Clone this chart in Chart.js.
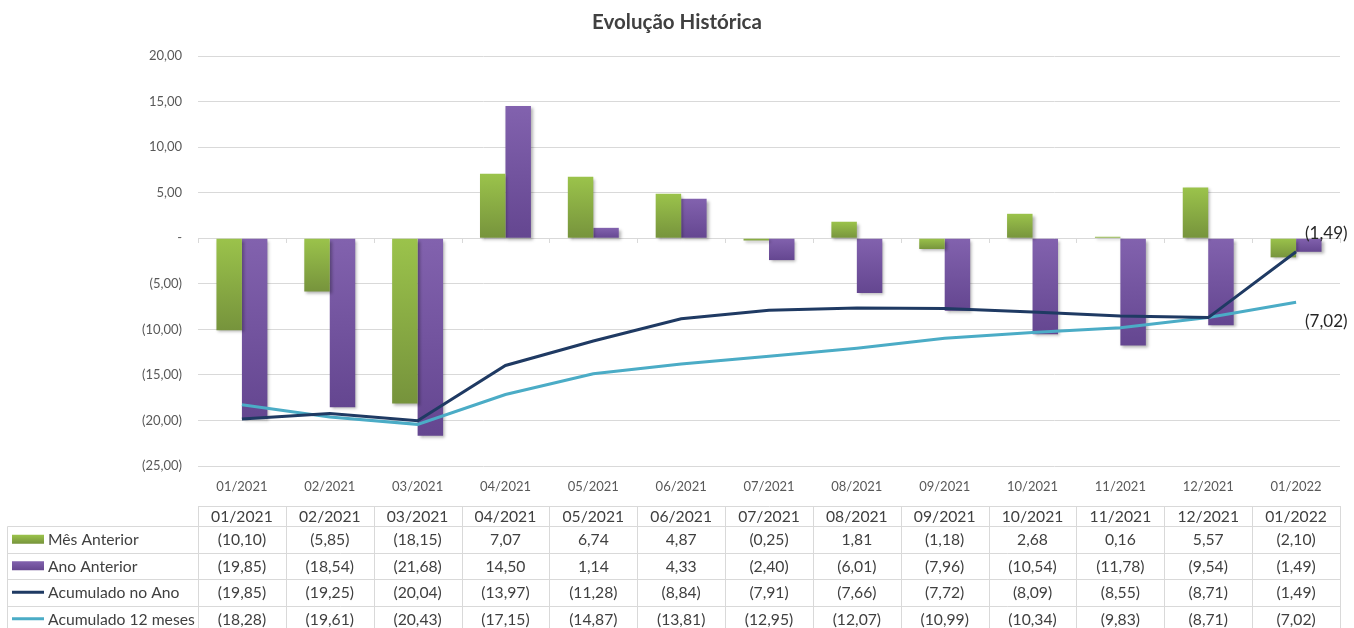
<!DOCTYPE html>
<html>
<head>
<meta charset="utf-8">
<title>Evolução Histórica</title>
<script src="https://cdn.jsdelivr.net/npm/chart.js@4.4.1/dist/chart.umd.min.js"></script>
<style>
  html, body { margin: 0; padding: 0; background: #ffffff; overflow: hidden; }
  canvas { display: block; }
</style>
</head>
<body>
<canvas id="evolucaoChart" width="1354" height="628"></canvas>
<script>
const categorias = ["01/2021", "02/2021", "03/2021", "04/2021", "05/2021", "06/2021", "07/2021",
  "08/2021", "09/2021", "10/2021", "11/2021", "12/2021", "01/2022"];
const mesAnterior = [-10.10, -5.85, -18.15, 7.07, 6.74, 4.87, -0.25, 1.81, -1.18, 2.68, 0.16, 5.57, -2.10];
const anoAnterior = [-19.85, -18.54, -21.68, 14.50, 1.14, 4.33, -2.40, -6.01, -7.96, -10.54, -11.78, -9.54, -1.49];
const acumuladoAno = [-19.85, -19.25, -20.04, -13.97, -11.28, -8.84, -7.91, -7.66, -7.72, -8.09, -8.55, -8.71, -1.49];
const acumulado12 = [-18.28, -19.61, -20.43, -17.15, -14.87, -13.81, -12.95, -12.07, -10.99, -10.34, -9.83, -8.71, -7.02];

const FONT = "Lato, 'Open Sans', sans-serif";
const TEXT_COLOR = "#404040";
const GRID_COLOR = "#d9d9d9";

// numero no formato contabil: (10,10) para negativos, "-" para zero
function fmt(v) {
  if (v === 0) return "-";
  const s = Math.abs(v).toFixed(2).replace(".", ",");
  return v < 0 ? "(" + s + ")" : s;
}

function barGradient(c, top, bottom) {
  const chart = c.chart;
  if (!chart.chartArea || c.type !== "data") return top;
  const y = chart.scales.y;
  const y0 = y.getPixelForValue(0);
  const y1 = y.getPixelForValue(c.raw);
  const g = chart.ctx.createLinearGradient(0, Math.min(y0, y1), 0, Math.max(y0, y1) + 0.5);
  g.addColorStop(0, top);
  g.addColorStop(1, bottom);
  return g;
}

const series = [
  { label: "Mês Anterior", type: "bar", color: "#8db640" },
  { label: "Ano Anterior", type: "bar", color: "#7a58a6" },
  { label: "Acumulado no Ano", type: "line", color: "#1f3a63" },
  { label: "Acumulado 12 meses", type: "line", color: "#4bacc6" },
];
const seriesData = [mesAnterior, anoAnterior, acumuladoAno, acumulado12];

// sombras das barras, marcas no eixo, rotulos finais e tabela de dados
const extrasPlugin = {
  id: "extras",
  beforeDatasetDraw(chart, args) {
    if (chart.data.datasets[args.index].type !== "bar") return;
    const ctx = chart.ctx;
    ctx.save();
    ctx.shadowColor = "rgba(0,0,0,0.3)";
    ctx.shadowOffsetX = 2;
    ctx.shadowOffsetY = 2;
    ctx.shadowBlur = 3;
  },
  afterDatasetDraw(chart, args) {
    if (chart.data.datasets[args.index].type !== "bar") return;
    chart.ctx.restore();
  },
  afterDatasetsDraw(chart) {
    const ctx = chart.ctx;
    const area = chart.chartArea;
    const xs = chart.scales.x;
    const ys = chart.scales.y;
    const n = categorias.length;
    const colW = (area.right - area.left) / n;
    const zeroY = Math.round(ys.getPixelForValue(0));

    ctx.save();
    // tick marks on the zero line
    ctx.strokeStyle = GRID_COLOR;
    ctx.lineWidth = 1;
    for (let k = 0; k <= n; k++) {
      const x = Math.round(area.left + k * colW) + 0.5;
      ctx.beginPath();
      ctx.moveTo(x, zeroY);
      ctx.lineTo(x, zeroY + 5);
      ctx.stroke();
    }

    // labels at the last point of each line
    ctx.font = "17px " + FONT;
    ctx.fillStyle = "#262626";
    ctx.textAlign = "left";
    ctx.textBaseline = "middle";
    const lastX = xs.getPixelForValue(n - 1);
    ctx.fillText(fmt(acumuladoAno[n - 1]), lastX + 9, ys.getPixelForValue(acumuladoAno[n - 1]) - 18);
    ctx.fillText(fmt(acumulado12[n - 1]), lastX + 9, ys.getPixelForValue(acumulado12[n - 1]) + 19);

    // data table
    const top = 506;
    const headH = 20;
    const rowH = 26.5;
    const legLeft = 7;
    const rowY = (r) => Math.round(top + headH + r * rowH) + 0.5;
    const x0 = Math.round(area.left) + 0.5;
    const x1 = Math.round(area.right) + 0.5;
    ctx.strokeStyle = GRID_COLOR;
    ctx.beginPath();
    ctx.moveTo(x0, top + 0.5);
    ctx.lineTo(x1, top + 0.5);
    for (let r = 0; r <= 4; r++) {
      ctx.moveTo(legLeft + 0.5, rowY(r));
      ctx.lineTo(x1, rowY(r));
    }
    for (let k = 0; k <= n; k++) {
      const x = Math.round(area.left + k * colW) + 0.5;
      ctx.moveTo(x, top);
      ctx.lineTo(x, rowY(4));
    }
    ctx.moveTo(legLeft + 0.5, rowY(0));
    ctx.lineTo(legLeft + 0.5, rowY(4));
    ctx.stroke();

    ctx.font = "15.7px " + FONT;
    ctx.fillStyle = TEXT_COLOR;
    ctx.textAlign = "center";
    ctx.textBaseline = "middle";
    for (let i = 0; i < n; i++) {
      const cx = xs.getPixelForValue(i);
      ctx.fillText(categorias[i], cx, top + headH / 2 + 1);
      for (let s = 0; s < series.length; s++) {
        ctx.fillText(fmt(seriesData[s][i]), cx, top + headH + (s + 0.5) * rowH + 1);
      }
    }

    // legend keys
    for (let s = 0; s < series.length; s++) {
      const cy = top + headH + (s + 0.5) * rowH;
      if (series[s].type === "bar") {
        const g = ctx.createLinearGradient(0, cy - 4.5, 0, cy + 4.5);
        g.addColorStop(0, s === 0 ? "#9bc34b" : "#8262ae");
        g.addColorStop(1, s === 0 ? "#77943c" : "#664790");
        ctx.fillStyle = g;
        ctx.fillRect(12, cy - 4.5, 32, 9);
      } else {
        ctx.fillStyle = series[s].color;
        ctx.fillRect(12, cy - 1.5, 32, 3);
      }
      ctx.fillStyle = TEXT_COLOR;
      ctx.textAlign = "left";
      ctx.fillText(series[s].label, 48, cy + 1);
    }
    ctx.restore();
  },
};

new Chart(document.getElementById("evolucaoChart"), {
  type: "bar",
  data: {
    labels: categorias,
    datasets: [
      {
        type: "line",
        label: series[2].label,
        data: acumuladoAno,
        borderColor: series[2].color,
        backgroundColor: series[2].color,
        borderWidth: 3,
        pointRadius: 0,
        tension: 0,
        order: 0,
      },
      {
        type: "line",
        label: series[3].label,
        data: acumulado12,
        borderColor: series[3].color,
        backgroundColor: series[3].color,
        borderWidth: 3,
        pointRadius: 0,
        tension: 0,
        order: 0,
      },
      {
        type: "bar",
        label: series[0].label,
        data: mesAnterior,
        backgroundColor: (c) => barGradient(c, "#9bc34b", "#76933c"),
        borderWidth: 0,
        categoryPercentage: 0.58,
        barPercentage: 1.0,
        order: 1,
      },
      {
        type: "bar",
        label: series[1].label,
        data: anoAnterior,
        backgroundColor: (c) => barGradient(c, "#8262ae", "#644690"),
        borderWidth: 0,
        categoryPercentage: 0.58,
        barPercentage: 1.0,
        order: 1,
      },
    ],
  },
  options: {
    responsive: false,
    animation: false,
    events: [],
    layout: { padding: { left: 14, right: 14, top: 0, bottom: 0 } },
    plugins: {
      legend: { display: false },
      tooltip: { enabled: false },
      title: {
        display: true,
        text: "Evolução Histórica",
        color: "#404040",
        font: { family: FONT, size: 20.5, weight: "bold" },
        padding: { top: 10, bottom: 21.4 },
      },
    },
    scales: {
      x: {
        grid: { display: false, drawTicks: false },
        border: { display: false },
        ticks: {
          color: "#595959",
          font: { family: FONT, size: 13 },
          padding: 13,
          maxRotation: 0,
        },
        afterFit(scale) {
          scale.height = 162;
        },
      },
      y: {
        min: -25,
        max: 20,
        grid: { color: GRID_COLOR, drawTicks: false },
        border: { display: false },
        ticks: {
          stepSize: 5,
          color: "#595959",
          font: { family: FONT, size: 13 },
          padding: 16,
          callback: (v) => fmt(v),
        },
        afterFit(scale) {
          scale.width = 184;
        },
      },
    },
  },
  plugins: [extrasPlugin],
});
</script>
</body>
</html>
